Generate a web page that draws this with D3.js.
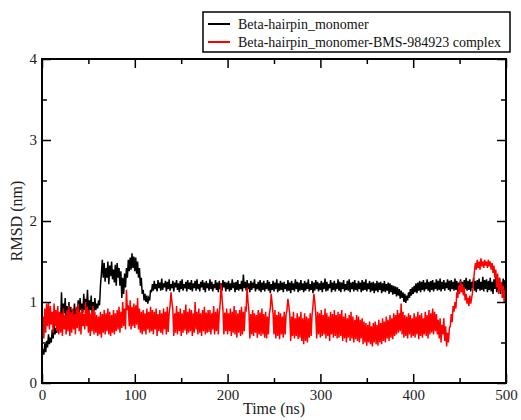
<!DOCTYPE html>
<html><head><meta charset="utf-8">
<script src="https://cdn.jsdelivr.net/npm/d3@7"></script>
<style>body{margin:0;background:#fff}svg{display:block}</style>
</head><body><svg id="c" width="521" height="420"></svg>
<script>
const seriesNames = ["Beta-hairpin_monomer", "Beta-hairpin_monomer-BMS-984923 complex"];
const seriesColors = ["#000000", "#ff0000"];
const timeStep = 1; // ns between samples
const xTicks = [0, 100, 200, 300, 400, 500];
const yTicks = [0, 1, 2, 3, 4];
const monomer = [
0.3,0.42,0.35,0.48,0.38,0.52,0.44,0.6,0.48,0.56,0.5,0.66,0.55,0.72,0.6,0.68,0.62,0.8,0.66,0.85,
0.72,1.12,0.8,0.98,0.86,1.05,0.8,0.95,0.78,1.0,0.82,0.94,0.76,0.9,0.84,0.98,0.8,0.92,0.85,1.02,
0.84,1.05,0.9,0.98,0.86,1.1,0.9,1.04,0.92,1.15,0.88,1.02,0.9,1.08,0.86,1.0,0.88,1.05,0.9,0.98,
0.92,1.02,0.96,1.2,1.35,1.52,1.3,1.48,1.25,1.42,1.3,1.5,1.22,1.45,1.32,1.5,1.28,1.4,1.24,1.46,
1.2,1.48,1.3,1.42,1.2,1.38,1.05,1.3,1.1,1.35,1.18,1.42,1.3,1.52,1.38,1.55,1.4,1.6,1.42,1.56,
1.38,1.55,1.35,1.5,1.3,1.42,1.2,1.3,1.1,1.15,1.02,1.1,1.0,1.08,0.98,1.05,1.02,1.15,1.12,1.22,
1.14,1.26,1.16,1.22,1.13,1.27,1.17,1.24,1.14,1.29,1.15,1.23,1.18,1.26,1.13,1.25,1.16,1.28,1.14,1.22,
1.17,1.26,1.13,1.24,1.18,1.27,1.15,1.23,1.12,1.26,1.16,1.28,1.14,1.22,1.17,1.25,1.13,1.27,1.16,1.24,
1.15,1.27,1.13,1.23,1.17,1.26,1.14,1.28,1.16,1.22,1.13,1.25,1.18,1.27,1.15,1.24,1.12,1.26,1.17,1.23,
1.14,1.28,1.16,1.25,1.13,1.22,1.17,1.27,1.15,1.24,1.12,1.26,1.16,1.23,1.14,1.27,1.18,1.25,1.13,1.24,
1.16,1.26,1.13,1.23,1.15,1.28,1.17,1.24,1.12,1.25,1.15,1.27,1.14,1.22,1.16,1.26,1.13,1.34,1.17,1.25,
1.14,1.27,1.16,1.23,1.12,1.26,1.15,1.24,1.17,1.28,1.13,1.22,1.16,1.25,1.14,1.27,1.12,1.24,1.15,1.26,
1.13,1.23,1.16,1.27,1.14,1.25,1.11,1.22,1.15,1.26,1.13,1.24,1.16,1.28,1.12,1.23,1.14,1.26,1.15,1.24,
1.12,1.25,1.16,1.22,1.13,1.27,1.14,1.24,1.11,1.26,1.15,1.23,1.13,1.28,1.16,1.25,1.12,1.24,1.14,1.27,
1.15,1.23,1.12,1.26,1.14,1.24,1.16,1.28,1.13,1.22,1.15,1.26,1.11,1.24,1.14,1.27,1.16,1.25,1.13,1.23,
1.15,1.26,1.12,1.24,1.16,1.29,1.13,1.25,1.14,1.22,1.17,1.27,1.12,1.24,1.15,1.26,1.13,1.23,1.16,1.28,
1.14,1.25,1.12,1.24,1.16,1.27,1.13,1.22,1.15,1.26,1.14,1.28,1.12,1.24,1.16,1.25,1.13,1.27,1.15,1.23,
1.13,1.26,1.16,1.24,1.12,1.27,1.14,1.25,1.15,1.28,1.13,1.23,1.16,1.26,1.12,1.24,1.14,1.25,1.11,1.23,
1.14,1.26,1.12,1.24,1.15,1.25,1.11,1.23,1.13,1.26,1.12,1.22,1.14,1.24,1.1,1.23,1.12,1.21,1.09,1.2,
1.1,1.19,1.07,1.18,1.08,1.16,1.04,1.14,1.05,1.12,1.0,1.1,0.99,1.08,1.02,1.12,1.05,1.16,1.08,1.18,
1.1,1.2,1.12,1.23,1.11,1.24,1.14,1.26,1.12,1.25,1.15,1.27,1.13,1.24,1.16,1.28,1.14,1.25,1.12,1.26,
1.15,1.27,1.13,1.24,1.16,1.28,1.14,1.26,1.15,1.29,1.13,1.25,1.16,1.27,1.14,1.24,1.17,1.28,1.15,1.26,
1.13,1.27,1.16,1.25,1.14,1.29,1.15,1.26,1.12,1.24,1.16,1.28,1.14,1.25,1.13,1.27,1.16,1.3,1.14,1.26,
1.15,1.28,1.13,1.25,1.17,1.3,1.14,1.26,1.12,1.27,1.16,1.29,1.14,1.25,1.15,1.31,1.13,1.27,1.16,1.28,
1.12,1.26,1.15,1.3,1.13,1.25,1.1,1.28,1.16,1.32,1.12,1.26,1.14,1.3,1.1,1.24,1.15,1.29,1.12,1.27,
1.2];
const complex = [
0.48,0.82,0.55,0.92,0.62,0.98,0.7,1.0,0.66,0.95,0.72,0.88,0.62,0.98,0.7,0.9,0.64,0.95,0.6,0.88,
0.62,0.86,0.58,0.92,0.66,0.84,0.6,0.9,0.64,0.96,0.58,0.88,0.62,0.92,0.66,0.85,0.6,0.94,0.68,0.98,
0.64,0.88,0.6,0.92,0.7,0.85,0.66,1.0,0.7,0.94,0.62,0.9,0.58,0.86,0.64,0.95,0.6,0.88,0.62,0.84,
0.58,0.82,0.6,0.88,0.56,0.85,0.62,0.9,0.6,0.86,0.64,0.92,0.6,0.88,0.58,0.84,0.62,0.9,0.6,0.86,
0.64,0.9,0.66,0.94,0.62,0.88,0.68,1.0,0.7,0.92,0.66,1.15,0.9,0.96,0.7,1.02,0.66,0.94,0.7,0.98,
0.68,0.96,0.72,1.05,0.66,0.92,0.62,0.88,0.6,0.9,0.64,0.86,0.6,0.92,0.66,0.88,0.62,0.94,0.64,0.9,
0.6,0.88,0.66,0.92,0.58,0.85,0.64,0.9,0.62,0.86,0.6,0.92,0.66,0.88,0.6,0.94,0.63,0.86,0.95,1.12,
1.0,0.9,0.58,0.86,0.62,0.95,0.6,0.88,0.64,0.92,0.58,0.86,0.62,0.9,0.65,0.97,0.6,0.88,0.62,0.92,
0.64,0.9,0.58,0.86,0.62,1.0,0.66,0.88,0.6,0.92,0.62,0.86,0.58,0.9,0.64,0.94,0.6,0.87,0.62,0.9,
0.63,0.9,0.6,0.86,0.66,0.95,0.6,0.88,0.64,0.92,0.6,0.86,0.98,1.22,1.05,0.9,0.6,0.87,0.64,0.92,
0.6,0.86,0.64,0.92,0.58,0.88,0.62,0.95,0.6,0.9,0.56,0.86,0.62,0.9,0.58,0.94,0.6,0.88,0.64,0.92,
0.9,1.18,1.0,0.88,0.55,0.85,0.6,0.9,0.58,0.86,0.62,0.84,0.56,0.9,0.6,0.87,0.58,0.92,0.6,0.85,
0.56,0.88,0.55,0.82,0.6,0.86,0.92,1.1,0.98,0.85,0.6,0.9,0.55,0.84,0.58,0.88,0.54,0.86,0.6,0.82,
0.56,0.88,0.6,0.84,0.9,1.04,0.95,0.85,0.52,0.82,0.58,0.88,0.55,0.8,0.58,0.86,0.54,0.82,0.56,0.88,
0.52,0.8,0.48,0.86,0.52,0.82,0.5,0.8,0.56,0.86,0.58,0.84,0.95,1.1,1.0,0.85,0.55,0.88,0.6,0.86,
0.56,0.9,0.58,0.84,0.6,0.92,0.55,0.86,0.58,0.82,0.52,0.88,0.6,0.85,0.56,0.9,0.58,0.84,0.55,0.88,
0.56,0.85,0.58,0.9,0.52,0.82,0.55,0.86,0.5,0.8,0.56,0.84,0.52,0.88,0.55,0.82,0.5,0.78,0.54,0.84,
0.52,0.82,0.5,0.78,0.55,0.8,0.48,0.76,0.5,0.74,0.46,0.72,0.5,0.76,0.48,0.7,0.45,0.74,0.5,0.76,
0.48,0.72,0.46,0.78,0.5,0.74,0.48,0.8,0.52,0.76,0.5,0.82,0.55,0.78,0.52,0.84,0.56,0.8,0.54,0.86,
0.58,0.84,0.6,0.9,0.62,0.86,0.64,0.98,0.6,0.88,0.56,0.84,0.58,0.82,0.55,0.86,0.6,0.84,0.56,0.8,
0.58,0.86,0.56,0.82,0.6,0.88,0.54,0.84,0.58,0.86,0.56,0.8,0.6,0.88,0.58,0.84,0.55,0.9,0.6,0.86,
0.62,0.92,0.6,0.88,0.64,0.85,0.6,0.78,0.55,0.8,0.5,0.72,0.6,0.8,0.52,0.7,0.45,0.62,0.5,0.68,
0.7,0.85,0.75,0.95,0.88,1.0,0.92,1.12,1.05,1.2,1.1,1.26,1.12,1.22,1.08,1.18,1.02,1.1,0.98,1.05,
0.95,1.08,0.98,1.05,1.12,1.25,1.38,1.48,1.4,1.52,1.42,1.5,1.4,1.54,1.44,1.5,1.42,1.52,1.45,1.5,
1.42,1.52,1.44,1.5,1.4,1.48,1.36,1.45,1.3,1.4,1.18,1.35,1.1,1.3,1.15,1.25,1.05,1.2,1.0,1.15,
1.0];

const FONT = '"Liberation Serif", "Times New Roman", Times, "DejaVu Serif", serif';
const L = 42, R = 506, T = 59, B = 383;
const svg = d3.select("#c");
const x = d3.scaleLinear().domain([0, 500]).range([L, R]);
const y = d3.scaleLinear().domain([0, 4]).range([B, T]);

const line = d3.line().x((d, i) => x(i * timeStep)).y(d => y(d));
[monomer, complex].forEach((s, k) => {
  svg.append("path").datum(s).attr("d", line)
    .attr("fill", "none").attr("stroke", seriesColors[k])
    .attr("stroke-width", 1.5).attr("stroke-linejoin", "miter");
});

const xMinor = d3.range(50, 500, 100);
const yMinor = d3.range(0.5, 4, 1);
function ticks(axisGen, tr) {
  svg.append("g").attr("transform", tr).call(axisGen)
    .call(s => s.select(".domain").remove())
    .call(s => s.selectAll("line").attr("stroke", "#000").attr("stroke-width", 1.5));
}
ticks(d3.axisBottom(x).tickValues(xTicks).tickSize(-9).tickFormat(d3.format("d")).tickPadding(6), `translate(0,${B})`);
ticks(d3.axisBottom(x).tickValues(xMinor).tickSize(-5).tickFormat(""), `translate(0,${B})`);
ticks(d3.axisTop(x).tickValues(xTicks).tickSize(-9).tickFormat(""), `translate(0,${T})`);
ticks(d3.axisTop(x).tickValues(xMinor).tickSize(-5).tickFormat(""), `translate(0,${T})`);
ticks(d3.axisLeft(y).tickValues(yTicks).tickSize(-9).tickFormat(d3.format("d")).tickPadding(5), `translate(${L},0)`);
ticks(d3.axisLeft(y).tickValues(yMinor).tickSize(-5).tickFormat(""), `translate(${L},0)`);
ticks(d3.axisRight(y).tickValues(yTicks).tickSize(-9).tickFormat(""), `translate(${R},0)`);
ticks(d3.axisRight(y).tickValues(yMinor).tickSize(-5).tickFormat(""), `translate(${R},0)`);
svg.selectAll(".tick text").attr("font-size", 15).style("font-family", FONT).attr("fill", "#222");

svg.append("rect").attr("x", L).attr("y", T).attr("width", R - L).attr("height", B - T)
  .attr("fill", "none").attr("stroke", "#000").attr("stroke-width", 2);

svg.append("text").attr("x", (L + R) / 2).attr("y", 414).attr("text-anchor", "middle")
  .attr("font-size", 16).style("font-family", FONT).attr("fill", "#222").text("Time (ns)");
svg.append("text").attr("transform", `translate(22,${(T + B) / 2}) rotate(-90)`)
  .attr("text-anchor", "middle").attr("font-size", 16).style("font-family", FONT).attr("fill", "#222").text("RMSD (nm)");

const lg = svg.append("g");
lg.append("rect").attr("x", 203).attr("y", 12).attr("width", 307).attr("height", 40)
  .attr("fill", "#fff").attr("stroke", "#000").attr("stroke-width", 1.5);
seriesNames.forEach((n, i) => {
  const yy = 24 + i * 18;
  lg.append("line").attr("x1", 208).attr("x2", 230).attr("y1", yy).attr("y2", yy)
    .attr("stroke", seriesColors[i]).attr("stroke-width", 2);
  lg.append("text").attr("x", 238).attr("y", yy + 4.5).attr("font-size", 14)
    .style("font-family", FONT).attr("fill", "#111").text(n);
});
</script></body></html>
